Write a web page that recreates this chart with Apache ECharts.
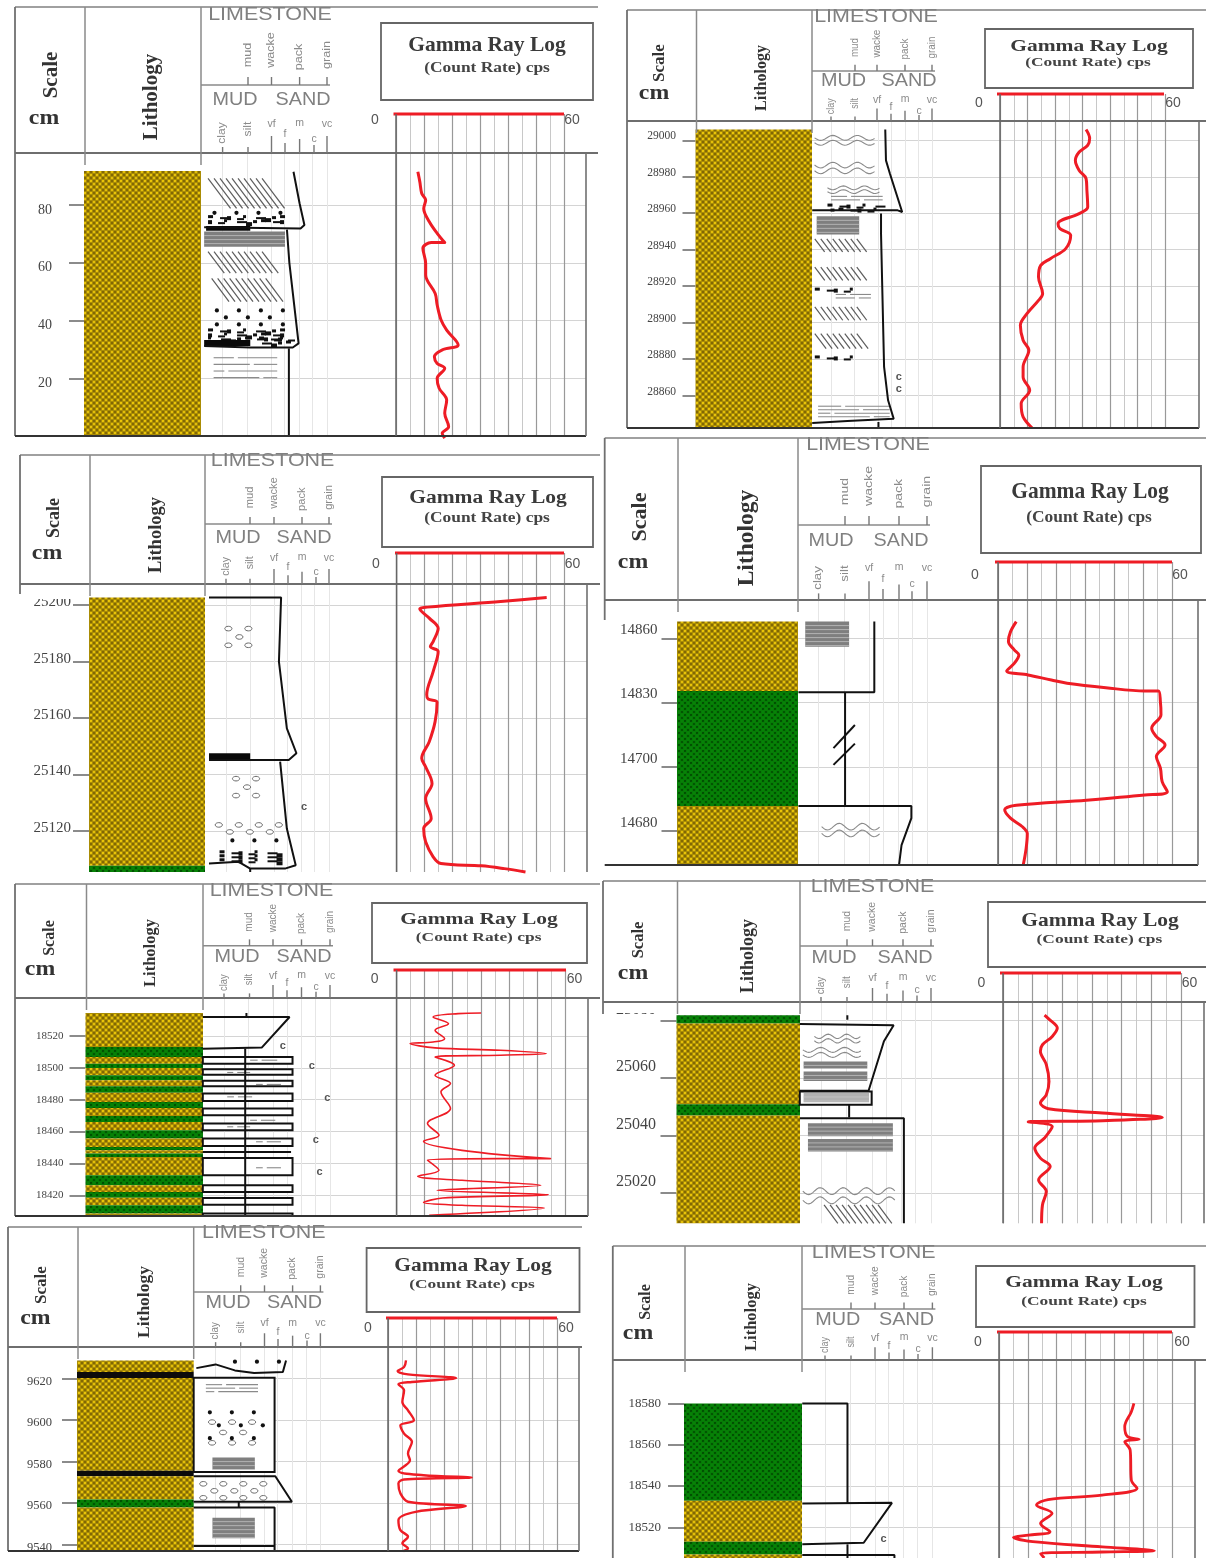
<!DOCTYPE html>
<html><head><meta charset="utf-8">
<script src="https://cdn.jsdelivr.net/npm/echarts@6/dist/echarts.min.js"></script>
<style>html,body{margin:0;padding:0;background:#fff}#c{width:1206px;height:1558px;filter:blur(0.45px)}</style>
</head><body><div id="c"></div>
<script>
// ---------- tick labels ----------
const grainLabels = ['clay','silt','vf','f','m','c','vc'];
const grainPos = [1,2,3,3.55,4.15,4.7,5.3];
const limeLabels = ['mud','wacke','pack','grain'];
const gammaGrid = [0,5,10,15,20,25,30,35,40,45,50,55,60];
const gammaMajor = [0,10,20,30,40,50,60];
const scaleTicks1 = [80,60,40,20];
const scaleTicks2 = [29000,28980,28960,28940,28920,28900,28880,28860];
const scaleTicks3 = [25200,25180,25160,25140,25120];
const scaleTicks4 = [14860,14830,14700,14680];
const scaleTicks5 = [18520,18500,18480,18460,18440,18420];
const scaleTicks6 = [25080,25060,25040,25020];
const scaleTicks7 = [9620,9600,9580,9560,9540];
const scaleTicks8 = [18580,18560,18540,18520];
// ---------- gamma ray logs: [cps, depth] ----------
const gamma1 = [[7.8,91.5],[8.5,88.1],[9.2,84],[10.6,81.7],[9.9,78.8],[11.9,74.2],[14.7,70.2],[17.4,67],[12.6,67],[9.6,65],[10.6,59.8],[10.6,55.8],[14,49.4],[14.7,45.4],[16.1,40.2],[18.1,36.7],[22.2,31.6],[16.8,30],[13.7,27.5],[14.7,25.2],[17.4,23.5],[14.7,20],[15.4,16.6],[18.1,12.5],[17.4,7.9],[18.8,3.3],[16.5,1],[17.4,-0.7]];
const gamma2 = [[31.3,29005.9],[32.6,29001],[31.9,28997.3],[28.8,28993.6],[27.4,28989],[28.8,28983.5],[31.3,28979],[31.6,28972.6],[31.9,28963.4],[28.8,28959.8],[21.1,28954.3],[21.8,28951.6],[25.7,28947.9],[23.9,28940.6],[18.3,28935.1],[14.8,28931.4],[14,28925],[15.5,28915.9],[14,28912.2],[9.8,28904.9],[7.4,28898.5],[8.4,28890.3],[10.5,28884.8],[8.4,28875.7],[8.4,28870.2],[10.8,28862.9],[7.7,28855.6],[8.4,28848.3],[11.7,28842.2]];
const gamma3 = [[53.8,25202.7],[37.3,25201.3],[11,25199.3],[8.3,25198.7],[11.7,25195.4],[14.9,25191.8],[13.1,25187.1],[12.1,25185.3],[14.9,25183.6],[13.1,25176.4],[10.8,25168.2],[11.3,25166.7],[14.5,25165.6],[13.8,25158.7],[11.7,25151.6],[9,25145.7],[10.4,25142.7],[12.7,25136.8],[10.4,25131.5],[12.4,25124.4],[9.7,25120.8],[10.4,25116.1],[13.1,25110.8],[15.9,25108.4],[30.4,25107.6],[38.6,25106.6],[46.2,25105.4]];
const gamma4 = [[6.3,3.26],[4.3,3.1],[3.6,2.95],[5.6,2.82],[7.2,2.74],[5.6,2.61],[3,2.49],[10.3,2.43],[18.4,2.35],[23.8,2.3],[37.2,2.23],[50.6,2.18],[55.3,2.18],[56,2.01],[56.2,1.81],[53,1.6],[54.6,1.47],[57.6,1.34],[54.6,1.16],[56,0.98],[56.6,0.77],[58.4,0.61],[50.6,0.56],[30.5,0.48],[6.3,0.4],[2.3,0.33],[4.3,0.2],[8.3,0.07],[10.1,-0.04],[9.7,-0.27],[8.7,-0.53]];
const gamma5 = [[30.1,18534.4],[21.9,18534],[13,18531.9],[18.5,18527.7],[13.7,18523.6],[17.1,18518.3],[13,18516.2],[4.8,18515.2],[13.7,18512.5],[37,18511],[53.4,18508.9],[37,18507.9],[13.7,18506.8],[20.6,18501.6],[13.7,18495.3],[19.2,18490.1],[15.8,18484.9],[19.2,18474.4],[11,18465],[15.1,18457.7],[9.6,18453.9],[23.3,18448.2],[54.8,18443],[37,18443],[11,18442],[15.1,18435.7],[7.5,18431.9],[23.3,18429.4],[51.4,18426.3],[14.4,18423.1],[54.1,18420.4],[16.4,18418.3],[9.6,18415.4],[23.3,18413.7],[52.7,18412],[11.6,18407.5]];
const gamma6 = [[14,25081.9],[15.3,25080.7],[18.3,25077.4],[16.6,25074.5],[13.3,25071.6],[12.6,25069.3],[14.6,25064.7],[15.5,25058.8],[14.6,25054.2],[12.6,25051.3],[15.3,25049.3],[33.5,25047.8],[53.7,25046.3],[33.5,25045.1],[8.5,25044.7],[16.6,25043.1],[14,25039.1],[10.7,25035.6],[12.6,25032.1],[15.9,25029.2],[12,25024.5],[14.6,25020.5],[13.3,25015.8],[13,25009.4]];
const gamma7 = [[6.4,9628.8],[5.7,9625.6],[3.4,9623.7],[7.1,9622.1],[24.2,9620.3],[8.5,9618.4],[3.7,9617.3],[5.7,9614.4],[5.1,9608.8],[7.1,9604.7],[9.2,9599.9],[4.4,9597.5],[5.7,9593.5],[8.5,9589.5],[7.1,9583.9],[7.8,9580.6],[3.7,9575.5],[12.6,9573.4],[29.7,9572.3],[5.7,9571.3],[3.7,9569.4],[4.4,9564.6],[7.1,9560.6],[27.6,9558.5],[9.8,9555.7],[3.7,9551.7],[4.4,9546.9],[7.1,9543.7],[5.1,9540.5],[7.1,9538.1],[5.5,9536.8]];
const gamma8 = [[46.8,18580],[45.9,18576],[43.6,18568.7],[44.6,18563.9],[48.6,18562.6],[43.6,18561.5],[45.5,18557.4],[45.9,18542.9],[47.9,18538.9],[35.8,18535.6],[17,18533.5],[13,18530.8],[18.4,18526.8],[14.4,18521.9],[17.7,18517.9],[10.3,18516.3],[5,18515.2],[11.7,18513.1],[35.8,18510.6],[53.9,18508.7],[35.8,18508.1],[14.4,18507.4],[15.7,18505.2]];
// ---------- lithology beds: [from depth, to depth, kind] ----------
const beds1 = [[91.8,0.07,'s']];
const beds2 = [[29005.9,28842.2,'s']];
const beds3 = [[25202.7,25107.6,'s'],[25107.6,25105.4,'g']];
const beds4 = [[3.26,2.18,'s'],[2.18,0.39,'g'],[0.39,-0.53,'s']];
const beds5 = [[18534.4,18513.1,'s'],[18513.1,18506.8,'g'],[18506.8,18502.6,'s'],[18502.6,18499.9,'g'],[18499.9,18495.3,'s'],[18495.3,18492.2,'g'],[18492.2,18488.4,'s'],[18488.4,18484.4,'g'],[18484.4,18478.6,'s'],[18478.6,18474.8,'g'],[18474.8,18469.8,'s'],[18469.8,18466,'g'],[18466,18460.8,'s'],[18460.8,18455.6,'g'],[18455.6,18450.3,'s'],[18450.3,18448.2,'g'],[18448.2,18446.2,'s'],[18446.2,18444.1,'g'],[18444.1,18432.6,'s'],[18432.6,18426.3,'g'],[18426.3,18422.1,'s'],[18422.1,18418.5,'g'],[18418.5,18413.7,'s'],[18413.7,18408.5,'g'],[18408.5,18407,'s']];
const beds6 = [[25081.9,25079,'g'],[25079,25050.9,'s'],[25050.9,25047,'g'],[25047,25009.4,'s']];
const beds7 = [[9628.8,9623.2,'s'],[9623.2,9620.3,'k'],[9620.3,9575.5,'s'],[9575.5,9572.9,'k'],[9572.9,9561.7,'s'],[9561.7,9557.8,'g'],[9557.8,9536.8,'s']];
const beds8 = [[18580,18532.9,'g'],[18532.9,18513.1,'s'],[18513.1,18506.9,'g'],[18506.9,18505.2,'s']];
// ---------- grain-size profile polylines: [grain size, depth] ----------
const profile1 = [[[3.92,91.5],[4.17,80.6],[4.37,73.1],[4.21,71.9],[0.24,72.3]],[[3.65,71.5],[3.75,60],[4.13,32.1],[3.89,30.7],[2.14,30.7],[0.24,31.2]],[[3.73,30.4],[3.73,0.07]]];
const profile2 = [[[3.31,29005.9],[3.34,28989],[3.51,28981.7],[4.03,28960.7],[3.84,28961.6],[0.2,28961.6]],[[3.13,28959.8],[3.13,28948.8],[3.26,28875.7],[3.43,28857.4],[3.67,28847.3],[1.7,28846],[0.2,28845]],[[3.02,28845.5],[3.02,28842.2]]];
const profile3 = [[[0.29,25202.7],[3.3,25202.7],[3.21,25180],[3.54,25156.3],[3.94,25147.5],[3.62,25145.1],[0.29,25145.1]],[[3.26,25144.5],[3.54,25120.8],[3.91,25107.8],[3.46,25106.6],[2.01,25106.6],[1.53,25109],[0.29,25108.4]],[[2.01,25106.6],[2.01,25105.4]]];
const profile4 = [[[3.21,3.26],[3.21,2.16],[0.2,2.16]],[[2.05,2.16],[2.05,0.39]],[[0.2,0.39],[4.68,0.39],[4.68,0.2],[4.29,-0.22],[4.19,-0.53]],[[1.59,1.29],[2.44,1.65]],[[1.59,1.03],[2.44,1.36]]];
const profile5 = [[[1.91,18534.4],[1.91,18531.9]],[[0.14,18531.9],[3.66,18531.9],[2.53,18512.7],[0.14,18512]],[[1.86,18512],[1.86,18407]],[[0.14,18447.2],[3.72,18447.2]]];
const profile6 = [[[2.03,25081.9],[2.03,25080.3]],[[0.17,25078.8],[3.84,25078.4],[3.46,25072.8],[2.86,25055.6],[0.17,25055.6]],[[2.1,25050.7],[2.1,25046.3]],[[0.17,25046],[4.24,25046],[4.24,25009.4]]];
const profile7 = [[[0.21,9625.1],[1,9626.9],[1.79,9624],[2.58,9622.7],[3.76,9623.2],[3.89,9628.8]],[[0.1,9572.9],[3.45,9572.9],[4.13,9560.6],[0.1,9560.6]],[[1.95,9560.6],[1.95,9557.8]],[[0.1,9557.8],[3.42,9557.8],[3.42,9536.8]],[[0.1,9539.2],[3.42,9539.2]]];
const profile8 = [[[0.09,18580],[1.9,18580],[1.9,18531.6]],[[0.09,18531.6],[3.68,18531.9],[2.55,18512.6],[0.09,18511.8]],[[1.9,18511.8],[1.9,18505.2]],[[0.09,18506.6],[3.78,18506.6],[3.78,18505.2]]];
// ---------- sedimentary symbols: [symbol, grain from, grain to, depth from, depth to] ----------
const marks1 = [['hatch',0.4,3.73,89.2,78.8],['dots',0.5,3.7,78,76.6],['stipple',0.4,3.8,76.5,73.7],['black',0.32,2.14,72.7,71.1],['bars',0.24,3.57,70.8,65.6],['hatch',0.4,3.5,63.9,56.4],['hatch',0.55,3.73,54.6,46.6],['dots',0.6,3.7,44.2,38],['stipple',0.4,3.9,37.3,33.3],['black',0.24,2.14,33.3,31.2],['stipple',2.5,3.9,34.5,32],['lines',0.63,3.25,27.5,18.3]];
const marks2 = [['wave',0.3,2.9,29002.7,28997.3],['wave',0.3,2.9,28988,28981.7],['wave',0.85,3.1,28975,28970.8],['lines',1,3.2,28969.8,28966],['stipple',0.85,3.1,28965.3,28962.5],['bars',0.39,2.2,28958.3,28948.3],['hatch',0.31,2.6,28946,28938.8],['hatch',0.31,2.6,28930.5,28923.2],['stipple',0.31,2.45,28919.2,28917.4],['lines',1.2,2.7,28916,28913.5],['hatch',0.31,2.6,28908.6,28901.3],['hatch',0.31,2.7,28894,28885.7],['stipple',0.31,2.45,28882,28880.3],['lines',0.45,3.5,28854.7,28848.3],['c',3.89,3.89,28870.2,28870.2],['c',3.89,3.89,28863.8,28863.8]];
const marks3 = [['ovals',0.89,2.41,25192.4,25185.3],['black',0.29,2.01,25147.5,25145.1],['ovals',1.21,2.73,25139.2,25132],['c',4.26,4.26,25128.3,25128.3],['ovals',0.49,3.46,25122.8,25119],['dots',1.1,3.2,25117.3,25114.3],['stipple',0.73,3.3,25113.1,25109.6]];
const marks4 = [['bars',0.47,2.21,3.26,2.87],['wave',1.12,3.44,0.12,-0.09]];
const marks5 = [['box',0.14,3.78,18506.8,18502.6],['box',0.14,3.78,18499.1,18495.7],['box',0.14,3.78,18491.8,18488.4],['box',0.14,3.78,18483.8,18479.2],['box',0.14,3.78,18474.4,18470.2],['box',0.14,3.78,18465,18460.8],['box',0.14,3.78,18455.6,18451],['box',0.14,3.78,18443.4,18432.6],['box',0.14,3.78,18426.3,18422.1],['box',0.14,3.78,18418.3,18414.1],['box',0.14,3.78,18408.5,18407],['lines',2.06,3.16,18505.4,18504],['lines',1.13,2.06,18497.7,18496.3],['lines',2.3,3.31,18490.2,18488.8],['lines',1.13,2.14,18482.4,18481],['lines',2.06,3.08,18467.7,18466.3],['lines',1.13,2.06,18463.6,18462.2],['lines',2.3,3.31,18454.2,18452.8],['lines',2.3,3.31,18437.9,18436.5],['c',3.39,3.39,18513.7,18513.7],['c',4.56,4.56,18501,18501],['c',5.19,5.19,18481.3,18481.3],['c',4.72,4.72,18454.5,18454.5],['c',4.88,4.88,18434.6,18434.6]];
const marks6 = [['wave',0.74,2.55,25075.3,25072.2],['wave',0.29,2.63,25070.7,25067.2],['bars',0.32,2.81,25065.8,25063.3],['bars',0.32,2.81,25062.3,25059],['box',0.17,2.98,25055.3,25050.7],['barsLight',0.32,2.88,25054.8,25051.6],['bars',0.49,3.81,25044.3,25039.7],['bars',0.49,3.81,25038.8,25034.4],['wave',0.29,3.9,25022.2,25015.8],['hatch',1.12,3.99,25015.8,25009.4]];
const marks7 = [['dots',1.63,3.69,9629.2,9626.7],['box',0.1,3.42,9620.5,9575],['lines',0.6,2.74,9617.6,9612.8],['dots',0.6,3.05,9604.7,9586],['ovals',0.65,2.8,9600,9588],['bars',0.87,2.61,9581.9,9576.1],['ovals',0.29,3.21,9570.2,9562.2],['bars',0.87,2.61,9552.9,9542.9]];
const marks8 = [['c',3.34,3.34,18514.2,18514.2]];

// ---------- layout of each log sheet ----------
const sheets = [
 {L:15,T:7,R:598,H:153,B:436,lith:[84,201],gx:[222.6,248,271.5,285,299.6,314,327],divY:85,limeX:270,limeY:15,mudX:235,sandX:303,mudY:100,box:[381,23,593,100],barY:114,bar:[393.5,564],g0:396,g60:564,xR:586,zero:[375,120],sixty:[572,120],scale:[52,75],cm:[44,118],lt:[152,97],title:[487,45],sub:[487,68],tl:15,mg:32,fs:14,dy:5,dTop:98,dBot:0.07,lw:3,base:true,leftEnd:436,sf:21,lf:21},
 {L:627,T:10,R:1206,H:121,B:428,lith:[695.5,812],gx:[831,855,877,891,905,919,932],divY:71,limeX:876,limeY:17,mudX:843.5,sandX:909,mudY:81,box:[985,29,1193,88],barY:94,bar:[997,1164],g0:1000,g60:1165,xR:1199,zero:[979,103],sixty:[1173,103],scale:[660,63],cm:[654,93],lt:[761.6,78],title:[1089,47],sub:[1088,63],tl:13,mg:19.5,fs:11.5,dy:-4,dTop:29010.6,dBot:28842.2,lw:3,base:true,leftEnd:428,sf:17,lf:16},
 {L:20,T:455,R:600,H:584,B:872,lith:[89,205],gx:[226,250,274,288,302,316,329],divY:524,limeX:272.6,limeY:461,mudX:238,sandX:304,mudY:538,box:[382,477,593,547],barY:553,bar:[395,564],g0:396.6,g60:564,xR:587,zero:[376,564],sixty:[572.6,564],scale:[54,518],cm:[47,553],lt:[156,535],title:[488,498],sub:[487,518],tl:16,mg:18,fs:15,dy:-3,dTop:25207.5,dBot:25105.4,lw:3,base:false,leftEnd:594,cover:[22,586,87,599],sf:18,lf:18.5},
 {L:604.7,T:438,R:1206,H:600,B:865,lith:[677,798],gx:[818.6,845,869,883,899,912,927],divY:525,limeX:868,limeY:445,mudX:831,sandX:901,mudY:541,box:[981,466,1201,553],barY:562,bar:[995,1172],g0:998,g60:1172,xR:1198,zero:[975,575],sixty:[1180,575],scale:[640,517],cm:[633,562],lt:[747,538],title:[1090,492],sub:[1089,518],tl:15.5,mg:19.5,fs:15,dy:-8,dTop:3.596,dBot:-0.529,lw:3,base:true,leftEnd:620,ranked:true,sf:22,lf:23.5},
 {L:15,T:884,R:600,H:998,B:1216,lith:[85.5,203],gx:[224,249.5,273,287,301.5,316,330],divY:945.7,limeX:271.5,limeY:890.7,mudX:237,sandX:304,mudY:957,box:[372,903,587,963],barY:970,bar:[393.5,566],g0:396.6,g60:565,xR:588,zero:[374.7,979],sixty:[574.5,979],scale:[50,938],cm:[40,969],lt:[151,953],title:[479,920],sub:[478.6,938],tl:16,mg:22,fs:11,dy:0,dTop:18543.8,dBot:18407,lw:1.6,base:true,leftEnd:1216,sf:16,lf:16.5},
 {L:603,T:881,R:1206,H:1002,B:1223.3,lith:[676.5,800],gx:[821,847,872.5,887,903,917,931],divY:946,limeX:872.5,limeY:887,mudX:834,sandX:905,mudY:958,box:[988,902,1210,967],barY:973,bar:[1000,1181],g0:1003,g60:1181,xR:1204,zero:[981.5,983],sixty:[1189.5,983],scale:[638.6,940],cm:[633,973],lt:[748,956],title:[1100,921],sub:[1099.4,940],tl:16,mg:20.5,fs:16,dy:-11,dTop:25086.5,dBot:25009.4,lw:3,base:false,leftEnd:1014,cover:[605,992,674,1013],sf:16.5,lf:18},
 {L:8,T:1227,R:582,H:1347,B:1551,lith:[77,193.7],gx:[215.6,240.7,264.5,278,292.6,307,320.4],divY:1292,limeX:263.8,limeY:1233,mudX:228,sandX:294.6,mudY:1303,box:[366.6,1248,579.5,1312],barY:1318,bar:[386,557],g0:388,g60:557,xR:579,zero:[368,1328],sixty:[566,1328],scale:[42,1285],cm:[35.4,1318],lt:[144,1302],title:[473,1266],sub:[472,1285],tl:15,mg:25,fs:12.5,dy:3,dTop:9635.3,dBot:9536.8,lw:2.4,base:true,leftEnd:1551,sf:17,lf:17.5},
 {L:612.8,T:1246,R:1206,H:1360,B:1558,lith:[684,802],gx:[825,851,875,889,904,918,932.4],divY:1309,limeX:873.7,limeY:1253,mudX:837.7,sandX:906.5,mudY:1320,box:[976,1266,1194.5,1327],barY:1332,bar:[997,1172],g0:999,g60:1172,xR:1195,zero:[978,1342],sixty:[1182,1342],scale:[646,1302],cm:[638,1333],lt:[751.5,1317],title:[1084,1283],sub:[1084,1302],tl:16,mg:23,fs:13,dy:0,dTop:18601,dBot:18505.2,lw:2.8,base:false,leftEnd:1558,sf:16,lf:16.5}
];
const scaleTicks=[scaleTicks1,scaleTicks2,scaleTicks3,scaleTicks4,scaleTicks5,scaleTicks6,scaleTicks7,scaleTicks8];
const gammas=[gamma1,gamma2,gamma3,gamma4,gamma5,gamma6,gamma7,gamma8];
const bedsAll=[beds1,beds2,beds3,beds4,beds5,beds6,beds7,beds8];
const profiles=[profile1,profile2,profile3,profile4,profile5,profile6,profile7,profile8];
const marksAll=[marks1,marks2,marks3,marks4,marks5,marks6,marks7,marks8];

function pattern(bg,dot,dark){
  const c=document.createElement('canvas');c.width=6;c.height=6;const x=c.getContext('2d');
  x.fillStyle=bg;x.fillRect(0,0,6,6);
  x.fillStyle=dot;[[1,1],[4,4]].forEach(p=>{x.beginPath();x.arc(p[0],p[1],1.1,0,7);x.fill();});
  x.fillStyle=dark;[[4,1],[1,4]].forEach(p=>{x.fillRect(p[0]-.7,p[1]-.7,1.4,1.4);});
  return {image:c,repeat:'repeat'};
}
const fills={s:pattern('#a98c06','#f2cc0a','#5a4500'),g:pattern('#067c06','#024c02','#0a8a0a'),k:'#0b0b0b'};

const chart=echarts.init(document.getElementById('c'),null,{renderer:'canvas'});
const grid=[],xAxis=[],yAxis=[],series=[],graphic=[];
const SERIF='Liberation Serif',SANS='Liberation Sans';
const hairless={axisLine:{show:false},axisLabel:{show:false}};

function markShapes(kind,x0,y0,x1,y1){
  const o=[],w=x1-x0,h=y1-y0;
  const ln=(a,b,c,d,col,wd)=>o.push({type:'line',shape:{x1:a,y1:b,x2:c,y2:d},style:{stroke:col,lineWidth:wd}});
  if(kind==='hatch'){const dx=h*0.75;for(let x=x0;x<x1-dx;x+=6)ln(x,y0,x+dx,y1,'#5c5c5c',1.2);}
  else if(kind==='bars'||kind==='barsLight'){o.push({type:'rect',shape:{x:x0,y:y0,width:w,height:h},style:{fill:kind==='bars'?'#7f7f7f':'#b0b0b0'}});for(let y=y0+4;y<y1;y+=4)ln(x0,y,x1,y,'#c9c9c9',.7);}
  else if(kind==='black'){o.push({type:'rect',shape:{x:x0,y:y0,width:w,height:h},style:{fill:'#0a0a0a'}});}
  else if(kind==='stipple'){const ws=[5,9,4,7,3,10,6,4],hs=[3,2,4,2,3,2,4,3],off=[0,2,1,3,0,2,3,1];let i=0;for(let y=y0;y<y1-1;y+=4){for(let x=x0+(i%2)*3;x<x1-3;x+=ws[i%8]+3){o.push({type:'rect',shape:{x:x,y:y+off[i%8],width:ws[i%8],height:hs[i%8]},style:{fill:'#111'}});i++;}i++;}}
  else if(kind==='dots'){let r=0;for(let y=y0+2;y<y1;y+=Math.max(7,h/3),r++){for(let x=x0+4+(r%2)*9;x<x1;x+=22)o.push({type:'circle',shape:{cx:x,cy:y,r:2.1},style:{fill:'#111'}});}}
  else if(kind==='ovals'){let r=0;for(let y=y0+2;y<=y1;y+=Math.max(7,h/2.4),r++){for(let x=x0+5+(r%2)*11;x<x1-3;x+=20)o.push({type:'ellipse',shape:{cx:x,cy:y,rx:3.6,ry:2.3},style:{fill:'#fff',stroke:'#6a6a6a',lineWidth:1}});}}
  else if(kind==='lines'){let r=0;for(let y=y0+1;y<=y1;y+=Math.max(3.5,h/4),r++){const gap=[.35,.6,.2,.75][r%4];ln(x0,y,x0+w*gap-2,y,'#8a8a8a',1.1);ln(x0+w*gap+2,y,x1,y,'#8a8a8a',1.1);}}
  else if(kind==='wave'){for(let r=0;r<2;r++){const y=y0+(r+.5)*h/2,pts=[];for(let x=x0;x<=x1;x+=2)pts.push([x,y+Math.sin((x-x0)/w*Math.PI*(w>90?8:5))*Math.min(3.5,h/4)]);o.push({type:'polyline',shape:{points:pts},style:{stroke:'#8a8a8a',lineWidth:1.1,fill:'none'}});}}
  else if(kind==='box'){o.push({type:'rect',shape:{x:x0,y:y0,width:w,height:h},style:{fill:'#fff',stroke:'#111',lineWidth:2}});}
  else if(kind==='c'){o.push({type:'text',style:{x:x0,y:y0,text:'c',fontFamily:SANS,fontSize:11,fontWeight:'bold',fill:'#555',align:'center',verticalAlign:'middle'}});}
  return o;
}

sheets.forEach((s,i)=>{
  const ticks=scaleTicks[i];
  const vals=s.ranked?ticks.map((_,k)=>ticks.length-1-k):ticks;
  const unit=(s.gx[6]-s.gx[0])/4.3;
  const rate=(s.dTop-s.dBot)/(s.B-s.H);
  const yBase=(extra)=>({min:s.dBot,max:s.dTop+(extra||0),axisLine:{show:false},axisLabel:{show:false},axisTick:{show:false,customValues:vals},splitLine:{show:true,lineStyle:{color:'#d4d4d4',width:1}}});
  // lithology column + scale axis
  const a=grid.length, ax=xAxis.length, ay=yAxis.length;
  grid.push({left:s.lith[0],top:s.H,width:s.lith[1]-s.lith[0],height:s.B-s.H});
  xAxis.push({gridIndex:a,type:'value',min:0,max:1,show:false});
  const labelShift=s.dy===0?{}:{verticalAlign:s.dy>0?'top':'bottom',lineHeight:2*Math.abs(s.dy)};
  yAxis.push({gridIndex:a,type:'value',min:s.dBot,max:s.dTop,position:'left',axisLine:{show:false},splitLine:{show:false},
    axisTick:{show:true,length:s.tl,customValues:vals,lineStyle:{color:'#666',width:1.5}},
    axisLabel:Object.assign({show:true,customValues:vals,margin:s.mg,color:'#444',fontFamily:SERIF,fontSize:s.fs,
      formatter:v=>s.ranked?String(ticks[ticks.length-1-v]):String(v)},labelShift)});
  const beds=bedsAll[i];
  series.push({type:'custom',xAxisIndex:ax,yAxisIndex:ay,silent:true,encode:{y:[0,1]},data:beds.map(b=>[b[0],b[1]]),z:3,
    renderItem:(p,api)=>{const t=api.coord([0,api.value(0)]),e=api.coord([1,api.value(1)]);
      return {type:'rect',shape:{x:t[0],y:t[1],width:e[0]-t[0],height:e[1]-t[1]},style:{fill:fills[beds[p.dataIndex][2]]}};}});
  // grain-size column
  const b=grid.length, bx=xAxis.length, by=yAxis.length;
  grid.push({left:s.lith[1],top:s.H,width:s.g0-s.lith[1],height:s.B-s.H});
  xAxis.push({gridIndex:b,type:'value',min:1-(s.gx[0]-s.lith[1])/unit,max:1+(s.g0-s.gx[0])/unit,...hairless,
    axisTick:{show:false,customValues:grainPos},splitLine:{show:true,lineStyle:{color:'#e6e6e6',width:1}}});
  yAxis.push({gridIndex:b,type:'value',...yBase()});
  const marks=marksAll[i];
  profiles[i].forEach(seg=>series.push({type:'line',xAxisIndex:bx,yAxisIndex:by,data:seg,showSymbol:false,silent:true,z:6,clip:false,lineStyle:{color:'#111',width:2}}));
  if(marks.length)series.push({type:'custom',xAxisIndex:bx,yAxisIndex:by,silent:true,clip:false,z:5,encode:{x:[0,1],y:[2,3]},data:marks.map(m=>m.slice(1)),
    renderItem:(p,api)=>{const t=api.coord([api.value(0),api.value(2)]),e=api.coord([api.value(1),api.value(3)]);
      return {type:'group',children:markShapes(marks[p.dataIndex][0],t[0],t[1],e[0],e[1])};}});
  // gamma ray column
  const c=grid.length, cx=xAxis.length, cy=yAxis.length;
  grid.push({left:s.g0,top:s.barY,width:s.xR-s.g0,height:s.B-s.barY});
  const gmax=(s.xR-s.g0)/((s.g60-s.g0)/60);
  xAxis.push({gridIndex:c,type:'value',min:0,max:gmax,position:'bottom',...hairless,axisTick:{show:false,customValues:gammaGrid},splitLine:{show:true,lineStyle:{color:'#c8c8c8',width:1}}});
  xAxis.push({gridIndex:c,type:'value',min:0,max:gmax,position:'top',...hairless,axisTick:{show:false,customValues:gammaMajor},splitLine:{show:true,lineStyle:{color:'#999',width:1.2}}});
  yAxis.push({gridIndex:c,type:'value',...yBase((s.H-s.barY)*rate)});
  series.push({type:'line',xAxisIndex:cx,yAxisIndex:cy,data:gammas[i],showSymbol:false,silent:true,z:8,clip:false,smooth:0.35,
    lineStyle:{color:'#ee1c25',width:s.lw,join:'round'}});

  // sheet frame and header
  const G=(o)=>graphic.push(Object.assign({z:20,silent:true},o));
  const line=(x1,y1,x2,y2,col,w)=>G({type:'line',shape:{x1,y1,x2,y2},style:{stroke:col,lineWidth:w}});
  const txt=(x,y,t,f,sz,col,rot,extra,sx,sy)=>G({type:'text',x,y,rotation:rot||0,scaleX:sx||1,scaleY:sy||1,style:Object.assign({text:t,fontFamily:f,fontSize:sz,fill:col,align:'center',verticalAlign:'middle'},extra||{})});
  if(s.cover)G({type:'rect',z:15,shape:{x:s.cover[0],y:s.cover[1],width:s.cover[2]-s.cover[0],height:s.cover[3]-s.cover[1]},style:{fill:'#fff'}});
  line(s.L,s.T,s.R,s.T,'#808080',1.6);
  line(s.L,s.T,s.L,s.leftEnd,'#707070',1.8);
  line(s.L,s.H,s.R,s.H,'#6e6e6e',2);
  line(s.lith[0]+1,s.T,s.lith[0]+1,s.H+12,'#8a8a8a',1.5);
  line(s.lith[1],s.T,s.lith[1],s.H+12,'#8a8a8a',1.5);
  line(s.lith[1],s.divY,s.gx[6]+3,s.divY,'#8a8a8a',1.5);
  if(s.base)line(s.L,s.B,s.xR,s.B,'#333',2);
  line(s.xR,s.H,s.xR,s.B,'#707070',1.6);
  G({type:'rect',shape:{x:s.box[0],y:s.box[1],width:s.box[2]-s.box[0],height:s.box[3]-s.box[1]},style:{fill:'#fff',stroke:'#666',lineWidth:1.8}});
  line(s.bar[0],s.barY,s.bar[1],s.barY,'#ee1c25',3);
  line(s.g0,s.barY,s.g0,s.B,'#666',1.5);
  const sy=Math.min(1.05,Math.max(.74,(s.box[3]-s.box[1])/77));
  txt(s.scale[0],s.scale[1],'Scale',SERIF,s.sf,'#333',Math.PI/2,{fontWeight:'bold'});
  txt(s.cm[0],s.cm[1],'cm',SERIF,22,'#333',0,{fontWeight:'bold'},1.08);
  txt(s.lt[0],s.lt[1],'Lithology',SERIF,s.lf,'#333',Math.PI/2,{fontWeight:'bold'});
  txt(s.limeX,s.limeY,'LIMESTONE',SANS,19,'#808080',0,null,1.13);
  txt(s.mudX,s.mudY,'MUD',SANS,18,'#808080',0,null,1.1);
  txt(s.sandX,s.mudY,'SAND',SANS,18,'#808080',0,null,1.1);
  txt(s.title[0],s.title[1],'Gamma Ray Log',SERIF,21.5,'#3a3a3a',0,{fontWeight:'bold'},1,sy);
  txt(s.sub[0],s.sub[1],'(Count Rate) cps',SERIF,15,'#444',0,{fontWeight:'bold'},1.16,sy);
  txt(s.zero[0],s.zero[1],String(gammaMajor[0]),SANS,14,'#555');
  txt(s.sixty[0],s.sixty[1],String(gammaMajor[6]),SANS,14,'#555');
  // grain-size scale
  const vg=(s.H-s.divY)/68, vl=(s.divY-s.T)/78;
  const gh=[6,6,17,10,14,8,17], gy=[-20,-24,-29,-19,-30,-14,-29];
  grainLabels.forEach((t,k)=>{
    line(s.gx[k],s.H,s.gx[k],s.H-gh[k]*vg,'#777',1.4);
    txt(s.gx[k],s.H+gy[k]*vg,t,SANS,10.5,'#8a8a8a',k<2?Math.PI/2:0,null,k<2?vg*1.15:1);
  });
  // limestone scale
  const lx=[s.gx[1],s.gx[2],s.gx[4],s.gx[6]], ly=[-30,-35,-28,-30];
  limeLabels.forEach((t,k)=>{
    line(lx[k],s.divY,lx[k],s.divY-8*vl,'#777',1.4);
    txt(lx[k],s.divY+ly[k]*vl,t,SANS,10.5,'#8a8a8a',Math.PI/2,null,vl*1.2);
  });
});

chart.setOption({animation:false,backgroundColor:'#fff',grid,xAxis,yAxis,series,graphic:{elements:graphic},tooltip:{show:false},legend:{show:false}});
</script></body></html>
